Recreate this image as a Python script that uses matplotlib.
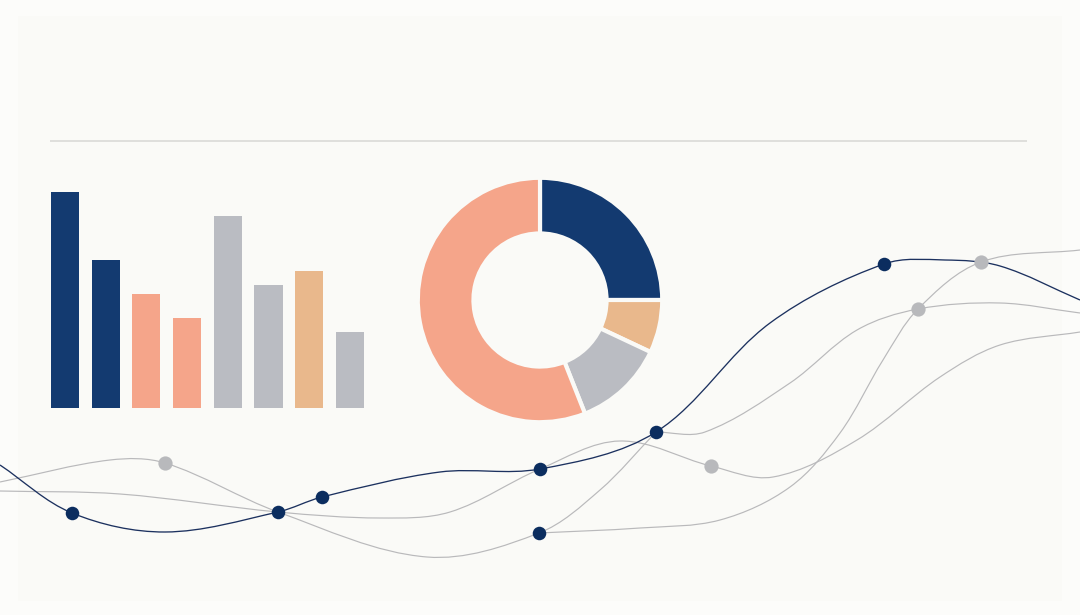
import numpy as np
import matplotlib
matplotlib.use("Agg")
import matplotlib.pyplot as plt
from matplotlib.path import Path
from matplotlib.patches import PathPatch, Rectangle

W, H = 1080, 615

navy = '#133a70'
salmon = '#f5a58a'
grey = '#babcc2'
tan = '#e9b88c'
dot_navy = '#0b2d5f'
dot_grey = '#b8b9bc'
line_grey = '#b9b9bb'
bg = '#fafaf7'

# bar chart
bar_values = [216, 148, 114, 90, 192, 123, 137, 76]
bar_colors = [navy, navy, salmon, salmon, grey, grey, tan, grey]

# donut
donut_shares = [25, 7, 12, 56]
donut_colors = [navy, tan, grey, salmon]

# curves (x along the width, y = height above the bottom)
navy_x = [0, 72, 165, 278, 322, 440, 540, 656, 770, 884, 945, 1000, 1080]
navy_y = [150, 102, 83, 103, 118, 143, 146, 183, 292, 351, 355, 349, 315]

grey_a_x = [0, 110, 165, 278, 427, 539, 600, 656]
grey_a_y = [133, 155, 152, 103, 58, 82, 125, 183]

grey_b_x = [0, 120, 278, 380, 450, 540, 620, 711, 773, 857, 940, 1000, 1080]
grey_b_y = [124, 121, 103, 97, 103, 146, 174, 149, 138, 175, 238, 270, 283]

grey_c_x = [656, 705, 790, 857, 918, 1000, 1080]
grey_c_y = [183, 183, 232, 285, 306, 312, 302]

grey_d_x = [539, 640, 720, 790, 840, 883, 918, 981, 1080]
grey_d_y = [82, 87, 95, 128, 182, 255, 306, 353, 365]

navy_dot_x = [72, 278, 322, 540, 656, 884, 539]
navy_dot_y = [102, 103, 118, 146, 183, 351, 82]
grey_dot_x = [165, 711, 918, 981]
grey_dot_y = [152, 149, 306, 353]

rule_y = 474
rule_x0, rule_x1 = 50, 1027


def smooth_path(xs, ys):
    # smooth curve through the read points; handle length follows each segment
    pts = np.column_stack([xs, ys]).astype(float)
    n = len(pts)
    tang = np.zeros_like(pts)
    for i in range(n):
        a = pts[max(i - 1, 0)]
        b = pts[min(i + 1, n - 1)]
        d = b - a
        tang[i] = d / np.hypot(*d)
    verts = [pts[0]]
    codes = [Path.MOVETO]
    for i in range(n - 1):
        seg = np.hypot(*(pts[i + 1] - pts[i])) / 3
        verts += [pts[i] + tang[i] * seg, pts[i + 1] - tang[i + 1] * seg, pts[i + 1]]
        codes += [Path.CURVE4] * 3
    return Path(verts, codes)


fig = plt.figure(figsize=(W / 100, H / 100), dpi=100)
fig.patch.set_facecolor('#fcfcfa')

# lines layer
ax = fig.add_axes([0, 0, 1, 1])
ax.set_xlim(0, W)
ax.set_ylim(0, H)
ax.axis('off')
ax.add_patch(Rectangle((18, 14), W - 36, H - 30, facecolor=bg, edgecolor='none', zorder=0))
ax.hlines(rule_y, rule_x0, rule_x1, color='#d8d8d5', lw=1.1, zorder=1)

for xs, ys in [(grey_a_x, grey_a_y), (grey_b_x, grey_b_y), (grey_c_x, grey_c_y), (grey_d_x, grey_d_y)]:
    ax.add_patch(PathPatch(smooth_path(xs, ys), facecolor='none', edgecolor=line_grey, lw=0.85, zorder=2))
ax.add_patch(PathPatch(smooth_path(navy_x, navy_y), facecolor='none', edgecolor='#1c315f', lw=0.95, zorder=3))

ax.scatter(grey_dot_x, grey_dot_y, s=105, color=dot_grey, zorder=4, linewidths=0)
ax.scatter(navy_dot_x, navy_dot_y, s=95, color=dot_navy, zorder=5, linewidths=0)

# bars
axb = fig.add_axes([44.6 / W, (H - 408) / H, 325.7 / W, 240 / H])
axb.set_xlim(-0.5, 7.5)
axb.set_ylim(0, 240)
axb.axis('off')
axb.patch.set_alpha(0)
axb.bar(range(len(bar_values)), bar_values, width=0.69, color=bar_colors)

# donut
axd = fig.add_axes([419 / W, (H - 421) / H, 242 / W, 242 / H])
axd.pie(donut_shares, colors=donut_colors, startangle=90, counterclock=False,
        radius=1.01, wedgeprops=dict(width=0.46, edgecolor=bg, linewidth=3))
axd.set_xlim(-1, 1)
axd.set_ylim(-1, 1)
axd.axis('off')

fig.savefig('out.png', dpi=100, facecolor=fig.get_facecolor())
